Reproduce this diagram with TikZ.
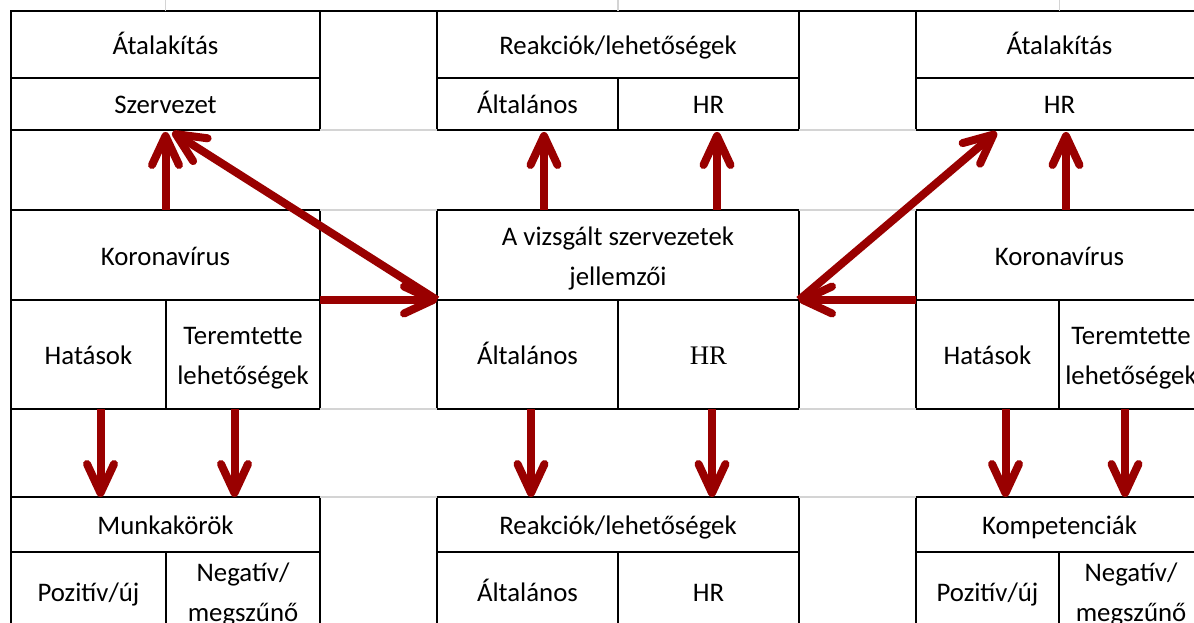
\documentclass[tikz,border=0pt]{standalone}
\usepackage{fontspec}
\setmainfont{Carlito}
\newfontfamily\serifHR{Liberation Serif}
\usetikzlibrary{arrows.meta,calc}
\definecolor{arrowred}{RGB}{153,0,0}
\definecolor{gridgray}{RGB}{212,212,212}
\newcommand\mystrutT{\rule{0pt}{25pt}}
\newcommand\mystrutB{\rule[-5pt]{0pt}{5pt}}
\begin{document}
\begin{tikzpicture}[x=1pt,y=-1pt,
  cell/.style={draw=black, line width=1.5pt, inner sep=0pt, outer sep=0pt,
    font=\fontsize{26.8}{40}\selectfont, align=center},
  one/.style={cell, text height=25pt, text depth=5pt},
  two/.style={cell},
  gridl/.style={draw=gridgray, line width=1.2pt},
  border/.style={draw=black, line width=1.5pt},
  arr/.style={draw=arrowred, line width=8pt,
    -{Straight Barb[length=29pt,width=27pt,round]}}
]
\useasboundingbox (0,0) rectangle (1194,623);
\clip (0,0) rectangle (1194,623);

% top row
\node[one, minimum width=309pt, minimum height=67pt] (LT1) at (165.5,44.5) {Átalakítás};
\node[one, minimum width=309pt, minimum height=52pt] (LT2) at (165.5,104) {Szervezet};
\node[one, minimum width=362pt, minimum height=67pt] (MT1) at (618,44.5) {Reakciók/lehetőségek};
\node[one, minimum width=181pt, minimum height=52pt] (MT2a) at (527.5,104) {Általános};
\node[one, minimum width=181pt, minimum height=52pt] (MT2b) at (708.5,104) {HR};
\node[one, minimum width=287pt, minimum height=67pt] (RT1) at (1059.5,44.5) {Átalakítás};
\node[one, minimum width=287pt, minimum height=52pt] (RT2) at (1059.5,104) {HR};

% middle row
\node[one, minimum width=309pt, minimum height=90pt] (LM1) at (165.5,255) {Koronavírus};
\node[one, minimum width=155pt, minimum height=109pt] (LM2a) at (88.5,354.5) {Hatások};
\node[two, minimum width=154pt, minimum height=109pt] (LM2b) at (243,354.5) {\mystrutT Teremtette\\lehetőségek\mystrutB};
\node[two, minimum width=362pt, minimum height=90pt] (MM1) at (618,255) {\mystrutT A vizsgált szervezetek\\jellemzői\mystrutB};
\node[one, minimum width=181pt, minimum height=109pt] (MM2a) at (527.5,354.5) {Általános};
\node[one, minimum width=181pt, minimum height=109pt] (MM2b) at (708.5,354.5) {\serifHR HR};
\node[one, minimum width=287pt, minimum height=90pt] (RM1) at (1059.5,255) {Koronavírus};
\node[one, minimum width=143pt, minimum height=109pt] (RM2a) at (987.5,354.5) {Hatások};
\node[two, minimum width=144pt, minimum height=109pt] (RM2b) at (1131,354.5) {\mystrutT Teremtette\\lehetőségek\mystrutB};

% bottom row
\node[one, minimum width=309pt, minimum height=55pt] (LB1) at (165.5,524.5) {Munkakörök};
\node[one, minimum width=155pt, minimum height=78pt] (LB2a) at (88.5,591) {Pozitív/új};
\node[two, minimum width=154pt, minimum height=78pt] (LB2b) at (243,591) {\mystrutT Negatív/\\megszűnő\mystrutB};
\node[one, minimum width=362pt, minimum height=55pt] (MB1) at (618,524.5) {Reakciók/lehetőségek};
\node[one, minimum width=181pt, minimum height=78pt] (MB2a) at (527.5,591) {Általános};
\node[one, minimum width=181pt, minimum height=78pt] (MB2b) at (708.5,591) {HR};
\node[one, minimum width=287pt, minimum height=55pt] (RB1) at (1059.5,524.5) {Kompetenciák};
\node[one, minimum width=143pt, minimum height=78pt] (RB2a) at (987.5,591) {Pozitív/új};
\node[two, minimum width=144pt, minimum height=78pt] (RB2b) at (1131,591) {\mystrutT Negatív/\\megszűnő\mystrutB};

% light grid lines
\draw[gridl] (LT2.south east) -- (MT2a.south west);
\draw[gridl] (MT2b.south east) -- (RT2.south west);
\draw[gridl] (LM1.north east) -- (MM1.north west);
\draw[gridl] (MM1.north east) -- (RM1.north west);
\draw[gridl] (LM2b.south east) -- (MM2a.south west);
\draw[gridl] (MM2b.south east) -- (RM2a.south west);
\draw[gridl] (LB1.north east) -- (MB1.north west);
\draw[gridl] (MB1.north east) -- (RB1.north west);
\draw[gridl] (LT1.north) -- ++(0,-11);
\draw[gridl] (MT1.north) -- ++(0,-11);
\draw[gridl] (RT1.north) -- ++(0,-11);

% table outer borders
\draw[border] (LT1.north east) -- (MT1.north west);
\draw[border] (MT1.north east) -- (RT1.north west);
\draw[border] (LT2.south west) -- (LM1.north west);
\draw[border] (LM2a.south west) -- (LB1.north west);

% arrows up
\draw[arr] (LM1.north) -- ($(LT2.south)+(0,2)$);
\draw[arr] ($(MT2a.south |- MM1.north)+(16.5,0)$) -- ($(MT2a.south)+(16.5,2)$);
\draw[arr] ($(MT2b.south |- MM1.north)+(8.5,0)$) -- ($(MT2b.south)+(8.5,2)$);
\draw[arr] ($(RT2.south |- RM1.north)+(6.5,0)$) -- ($(RT2.south)+(6.5,2)$);
% diagonals and horizontals
\draw[arr] (MM1.south west) -- ($(LT2.south)+(7,2)$);
\draw[arr] (MM1.south east) -- ($(RT2.south)+(-63,2)$);
\draw[arr] (LM1.south east) -- (MM1.south west);
\draw[arr] (RM1.south west) -- (MM1.south east);
% arrows down
\draw[arr] ($(LM2a.south)+(12,0)$) -- ($(LM2a.south |- LB1.north)+(12,0)$);
\draw[arr] ($(LM2b.south)+(-8.5,0)$) -- ($(LM2b.south |- LB1.north)+(-8.5,0)$);
\draw[arr] ($(MM2a.south)+(3.5,0)$) -- ($(MM2a.south |- MB1.north)+(3.5,0)$);
\draw[arr] ($(MM2b.south)+(3.5,0)$) -- ($(MM2b.south |- MB1.north)+(3.5,0)$);
\draw[arr] ($(RM2a.south)+(18,0)$) -- ($(RM2a.south |- RB1.north)+(18,0)$);
\draw[arr] ($(RM2b.south)+(-6,0)$) -- ($(RM2b.south |- RB1.north)+(-6,0)$);
\end{tikzpicture}
\end{document}
